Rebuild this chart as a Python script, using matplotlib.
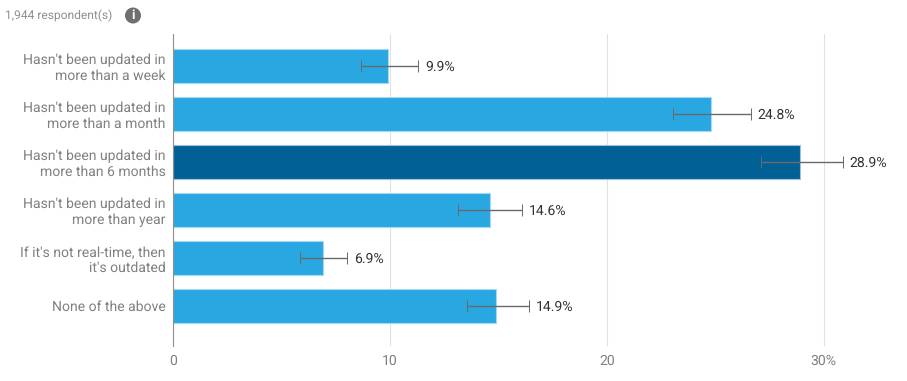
import matplotlib
matplotlib.use('Agg')
from matplotlib import pyplot as plt
from matplotlib.patches import Circle
import numpy as np

plt.rcParams['font.family'] = ['Roboto', 'DejaVu Sans']
plt.rcParams['text.hinting'] = 'no_hinting'
plt.rcParams['text.hinting_factor'] = 1

categories = ["Hasn't been updated in\nmore than a week",
              "Hasn't been updated in\nmore than a month",
              "Hasn't been updated in\nmore than 6 months",
              "Hasn't been updated in\nmore than year",
              "If it's not real-time, then\nit's outdated",
              "None of the above"]
values = [9.9, 24.8, 28.9, 14.6, 6.9, 14.9]
err_low = [8.66, 23.07, 27.1, 13.14, 5.84, 13.56]
err_high = [11.29, 26.63, 30.88, 16.1, 8.01, 16.4]
ticks = [0, 10, 20, 30]
tick_labels = ['0', '10', '20', '30%']
highlight = 2

W, H = 907, 381
fig = plt.figure(figsize=(W / 100, H / 100), dpi=100)
ax = fig.add_axes([173.4 / W, (H - 346) / H, 693.5 / W, 312 / H])

y = np.arange(len(values))
colors = ['#29a7e1'] * len(values)
edges = ['#a5d9f2'] * len(values)
colors[highlight] = '#016197'
edges[highlight] = '#9cc3d8'
ax.barh(y, values, height=0.69, color=colors, edgecolor=edges, linewidth=0.8, zorder=2)

low = np.array(values) - np.array(err_low)
high = np.array(err_high) - np.array(values)
ax.errorbar(values, y, xerr=[low, high], fmt='none', ecolor='#6a6a6a', elinewidth=1,
            capsize=4.5, capthick=0.7, zorder=3)

for i, v in enumerate(values):
    ax.annotate('%.1f%%' % v, (err_high[i], i), xytext=(5, -0.7), textcoords='offset points',
                va='center', ha='left', fontsize=10.3, color='#333333')

ax.set_xlim(0, 32)
ax.set_ylim(5.833, -0.667)
ax.set_yticks(y)
ax.set_yticklabels(categories, fontsize=10, color='#808080', linespacing=1.22, ha='right')
ax.set_xticks(ticks)
ax.set_xticklabels(tick_labels, fontsize=10, color='#808080')
ax.tick_params(axis='both', length=0)
ax.tick_params(axis='y', pad=5.6)
ax.tick_params(axis='x', pad=6)
ax.grid(True, axis='x', color='#e2e2e2', linewidth=0.8, zorder=0)
ax.set_axisbelow(True)
for s in ['top', 'right', 'bottom']:
    ax.spines[s].set_visible(False)
ax.spines['left'].set_color('#8f8f8f')
ax.spines['left'].set_linewidth(0.8)
ax.spines['left'].set_zorder(4)

fig.text(5 / W, (H - 15.5) / H, '1,944 respondent(s)', fontsize=8.7, color='#8f8f8f', va='center', ha='left')
fig.add_artist(Circle((133, H - 15.5), 8, transform=None, facecolor='#6f6f6f', edgecolor='none'))
fig.text(133 / W, (H - 15.5) / H, 'i', fontsize=9, fontweight='bold', color='white', va='center', ha='center')

fig.savefig('out.png', dpi=100)
